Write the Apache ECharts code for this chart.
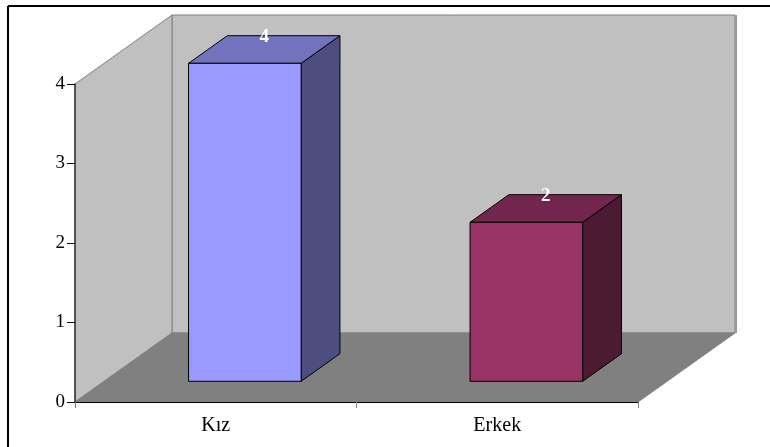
<!DOCTYPE html>
<html>
<head>
<meta charset="utf-8">
<script src="https://cdn.jsdelivr.net/npm/echarts@6/dist/echarts.min.js"></script>
<style>
  html, body { margin: 0; padding: 0; background: #fff; }
  #main { width: 770px; height: 447px; }
</style>
</head>
<body>
<div id="main"></div>
<script>
// veriler
var categories = ['Kız', 'Erkek'];
var values = [4, 2];
var yTicks = [0, 1, 2, 3, 4];

// 3B görünüm: derinlik kayması (piksel)
var DX = 97, DY = -69;
var frontColors = ['#9999FF', '#993366'];
var topColors = ['#7373BD', '#73264D'];
var sideColors = ['#4D4D80', '#4D1A33'];

var chart = echarts.init(document.getElementById('main'));

function renderWalls (params, api) {
  var cs = params.coordSys;
  var x0 = cs.x, x1 = cs.x + cs.width;
  var yT = cs.y, y0 = cs.y + cs.height;
  var edge = { stroke: '#808080', lineWidth: 1 };
  return {
    type: 'group',
    children: [
      { // arka duvar
        type: 'polygon',
        shape: { points: [[x0 + DX, yT + DY], [x1 + DX, yT + DY], [x1 + DX, y0 + DY], [x0 + DX, y0 + DY]] },
        style: Object.assign({ fill: '#C0C0C0' }, edge)
      },
      { // sol duvar
        type: 'polygon',
        shape: { points: [[x0, y0], [x0, yT], [x0 + DX, yT + DY], [x0 + DX, y0 + DY]] },
        style: Object.assign({ fill: '#C0C0C0' }, edge)
      },
      { // zemin
        type: 'polygon',
        shape: { points: [[x0, y0], [x1, y0], [x1 + DX, y0 + DY], [x0 + DX, y0 + DY]] },
        style: Object.assign({ fill: '#808080' }, edge)
      },
      { // arka duvar sağ kenar gölgesi
        type: 'line',
        shape: { x1: x1 + DX + 1, y1: yT + DY, x2: x1 + DX + 1, y2: y0 + DY },
        style: { stroke: '#999999', lineWidth: 2 }
      }
    ]
  };
}

function renderBar (params, api) {
  var i = params.dataIndex;
  var top = api.coord([api.value(0), api.value(1)]);
  var base = api.coord([api.value(0), 0]);
  var w = api.size([1, 0])[0] * 0.4;
  var f0 = 0.3, f1 = 0.7;
  var xl = top[0] - w / 2 + f0 * DX, xr = xl + w;
  var yt = top[1] + f0 * DY, yb = base[1] + f0 * DY;
  var ddx = (f1 - f0) * DX, ddy = (f1 - f0) * DY;
  var line = { stroke: '#000', lineWidth: 1 };
  return {
    type: 'group',
    children: [
      {
        type: 'polygon',
        shape: { points: [[xr, yt], [xr + ddx, yt + ddy], [xr + ddx, yb + ddy], [xr, yb]] },
        style: Object.assign({ fill: sideColors[i] }, line)
      },
      {
        type: 'polygon',
        shape: { points: [[xl, yt], [xl + ddx, yt + ddy], [xr + ddx, yt + ddy], [xr, yt]] },
        style: Object.assign({ fill: topColors[i] }, line)
      },
      {
        type: 'rect',
        shape: { x: xl, y: yt, width: w, height: yb - yt },
        style: Object.assign({ fill: frontColors[i] }, line)
      },
      {
        type: 'text',
        style: {
          text: String(api.value(1)),
          x: top[0] + 0.5 * DX,
          y: top[1] + 0.68 * DY,
          align: 'center',
          verticalAlign: 'middle',
          fill: '#fff',
          fontFamily: 'Liberation Serif',
          fontWeight: 'bold',
          fontSize: 19
        }
      }
    ]
  };
}

chart.setOption({
  animation: false,
  grid: { left: 75, right: 132, top: 84, bottom: 45 },
  xAxis: {
    type: 'category',
    data: categories,
    boundaryGap: true,
    z: 5,
    axisLine: { lineStyle: { color: '#000', width: 1 } },
    axisTick: { show: true, length: 6, lineStyle: { color: '#808080' } },
    axisLabel: { color: '#000', fontFamily: 'Liberation Serif', fontSize: 20, margin: 14 }
  },
  yAxis: {
    type: 'value',
    min: yTicks[0],
    max: yTicks[yTicks.length - 1],
    interval: 1,
    z: 5,
    axisLine: { show: true, lineStyle: { color: '#333', width: 1.5 } },
    axisTick: { show: true, length: 8, lineStyle: { color: '#000' } },
    axisLabel: { color: '#000', fontFamily: 'Liberation Serif', fontSize: 19, margin: 10 },
    splitLine: { show: false }
  },
  graphic: [
    { type: 'line', shape: { x1: 8, y1: 6, x2: 770, y2: 6 }, style: { stroke: '#000', lineWidth: 2 }, z: 10 },
    { type: 'line', shape: { x1: 8, y1: 6, x2: 8, y2: 447 }, style: { stroke: '#000', lineWidth: 2 }, z: 10 }
  ],
  series: [
    {
      type: 'custom',
      z: 1,
      renderItem: renderWalls,
      data: [[0, 0]],
      silent: true
    },
    {
      type: 'custom',
      z: 3,
      renderItem: renderBar,
      data: categories.map(function (c, i) { return [i, values[i]]; })
    }
  ]
});
</script>
</body>
</html>
